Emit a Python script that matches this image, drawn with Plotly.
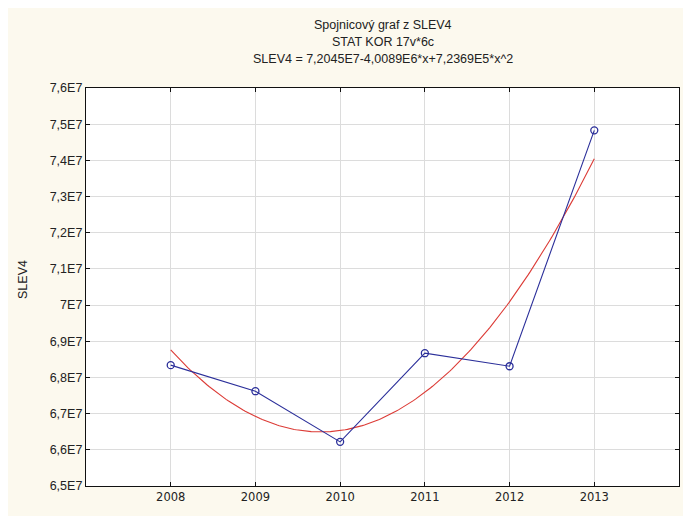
import numpy as np
import plotly.graph_objects as go

# Observed SLEV4 values per year
years = [2008, 2009, 2010, 2011, 2012, 2013]
slev4 = [6.834e7, 6.762e7, 6.622e7, 6.867e7, 6.831e7, 7.483e7]

# Quadratic fit coefficients (x = 1..6 for 2008..2013)
coef_a = 7.2045e7
coef_b = -4.0089e6
coef_c = 7.2369e5

y_tick_vals = [6.5e7, 6.6e7, 6.7e7, 6.8e7, 6.9e7, 7.0e7, 7.1e7, 7.2e7, 7.3e7, 7.4e7, 7.5e7, 7.6e7]
y_tick_text = ["6,5E7", "6,6E7", "6,7E7", "6,8E7", "6,9E7", "7E7",
               "7,1E7", "7,2E7", "7,3E7", "7,4E7", "7,5E7", "7,6E7"]

fit_x = np.linspace(years[0], years[-1], 200)
xi = fit_x - (years[0] - 1)
fit_y = coef_a + coef_b * xi + coef_c * xi ** 2

font_family = "Liberation Sans Narrow, Liberation Sans, Arial, sans-serif"

fig = go.Figure()
fig.add_trace(go.Scatter(
    x=fit_x, y=fit_y, mode="lines",
    line=dict(color="#dc3b36", width=1.1),
    hoverinfo="skip", showlegend=False,
))
fig.add_trace(go.Scatter(
    x=years, y=slev4, mode="lines+markers",
    line=dict(color="#2b2f9a", width=1.1),
    marker=dict(symbol="circle-open", size=7, color="#2b2f9a", line=dict(width=1.3)),
    showlegend=False,
))

plot_w = 683 - 86 - 4
plot_h = 516 - 88 - 30

fig.update_layout(
    width=683, height=516,
    margin=dict(l=86, r=4, t=88, b=30),
    paper_bgcolor="#fcf9ee",
    plot_bgcolor="#ffffff",
    font=dict(family=font_family, size=12, color="#222222"),
    annotations=[
        dict(text="Spojnicový graf z SLEV4", x=0.5, y=1 + (88 - 25) / plot_h,
             xref="paper", yref="paper", yanchor="middle",
             showarrow=False, font=dict(size=12.5)),
        dict(text="STAT KOR 17v*6c", x=0.5, y=1 + (88 - 42) / plot_h,
             xref="paper", yref="paper", yanchor="middle",
             showarrow=False, font=dict(size=12.5)),
        dict(text="SLEV4 = 7,2045E7-4,0089E6*x+7,2369E5*x^2", x=0.5,
             y=1 + (88 - 59) / plot_h, xref="paper", yref="paper", yanchor="middle",
             showarrow=False, font=dict(size=12.5)),
        dict(text="SLEV4", textangle=-90, x=-(86 - 23) / plot_w, y=(486 - 280) / plot_h,
             xref="paper", yref="paper", xanchor="center", yanchor="middle",
             showarrow=False, font=dict(size=12.5)),
    ],
    shapes=[
        dict(type="rect", xref="paper", yref="paper",
             x0=-86 / plot_w, x1=597 / plot_w, y0=1 + 80 / plot_h, y1=1 + 88 / plot_h,
             fillcolor="#ffffff", line=dict(width=0), layer="below"),
        dict(type="rect", xref="paper", yref="paper",
             x0=-86 / plot_w, x1=-78 / plot_w, y0=-30 / plot_h, y1=1 + 88 / plot_h,
             fillcolor="#ffffff", line=dict(width=0), layer="below"),
    ],
)

fig.update_xaxes(
    range=[2007, 2014], tickvals=years, ticktext=[str(y) for y in years],
    showgrid=True, gridcolor="#dcdcdc", gridwidth=1,
    showline=True, linecolor="#111111", linewidth=1.3, mirror="ticks",
    ticks="inside", ticklen=4, tickcolor="#111111", zeroline=False,
    tickfont=dict(size=11.5, family="DejaVu Sans, Liberation Sans, sans-serif"),
)
fig.update_yaxes(
    range=[6.5e7, 7.6e7], tickvals=y_tick_vals, ticktext=y_tick_text,
    showgrid=True, gridcolor="#dcdcdc", gridwidth=1,
    showline=True, linecolor="#111111", linewidth=1.3, mirror="ticks",
    ticks="inside", ticklen=4, tickcolor="#111111", zeroline=False,
    tickfont=dict(size=12.5, family=font_family),
)

fig.write_html("out.html")
